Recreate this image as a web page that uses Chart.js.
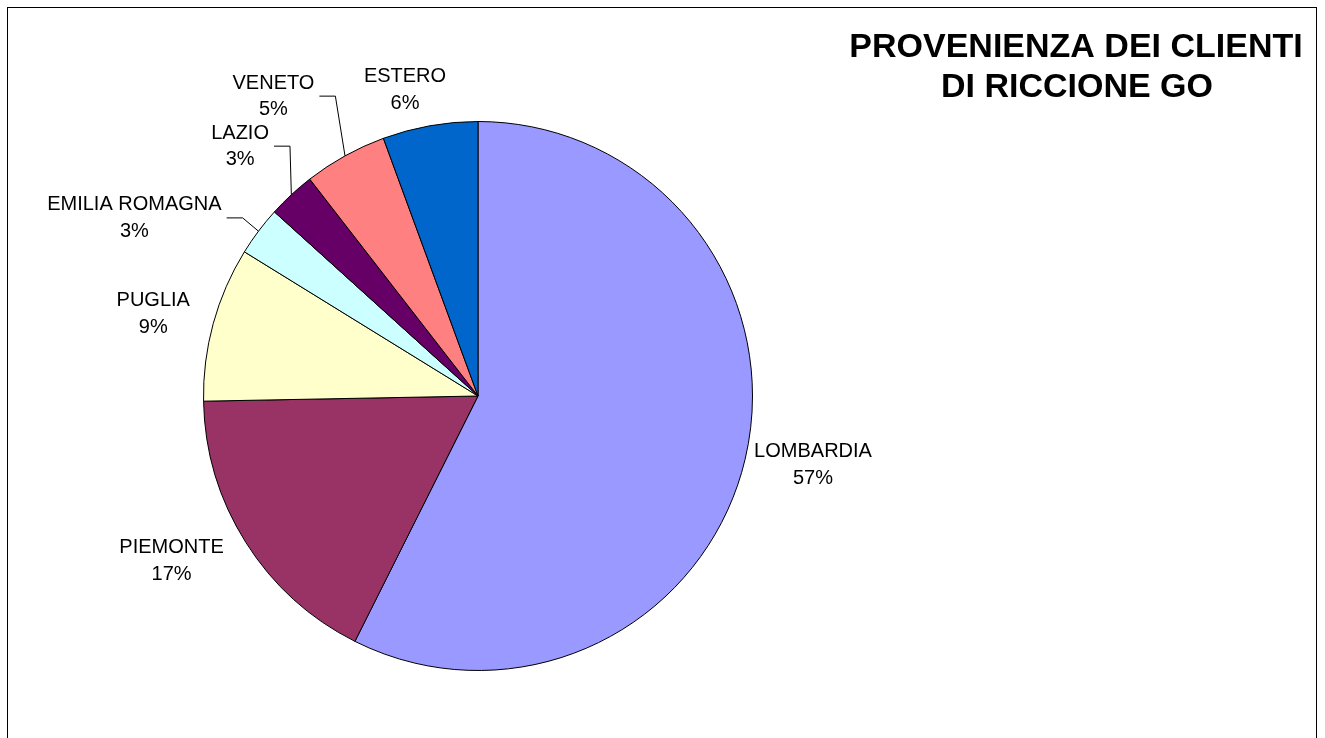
<!DOCTYPE html>
<html>
<head>
<meta charset="utf-8">
<script src="https://cdn.jsdelivr.net/npm/chart.js@4.4.1/dist/chart.umd.min.js"></script>
<style>
  html, body { margin: 0; padding: 0; background: #fff; }
  #wrap { position: relative; width: 1325px; height: 738px; overflow: hidden; }
  #frame { position: absolute; left: 7px; top: 7px; width: 1310px; height: 800px; border: 1px solid #000; box-sizing: border-box; }
  #chart { position: absolute; left: 0; top: 0; }
</style>
</head>
<body>
<div id="wrap">
  <div id="frame"></div>
  <canvas id="chart" width="1325" height="738"></canvas>
</div>
<script>
// data
const regioni = ['LOMBARDIA', 'PIEMONTE', 'PUGLIA', 'EMILIA ROMAGNA', 'LAZIO', 'VENETO', 'ESTERO'];
const quote = [57.4, 17.3, 9.1, 2.9, 2.8, 4.9, 5.6];
const colori = ['#9999FF', '#993366', '#FFFFCC', '#CCFFFF', '#660066', '#FF8080', '#0066CC'];
const titolo = ['PROVENIENZA DEI CLIENTI', 'DI RICCIONE GO'];

// where the labels were dragged to (angle from 12 o'clock, distance from centre)
const labelDeg = [101.6, 241.7, 284.2, 297.4, 316.4, 325.7, 346.6];
const labelDist = [342, 348, 335, 387, 345, 363, 315];
const withLeader = [false, false, false, true, true, true, false];

const FONT = "'Liberation Sans', Arial, sans-serif";

const labelsPlugin = {
    id: 'pieLabels',
    afterDraw(chart) {
        const ctx = chart.ctx;
        const meta = chart.getDatasetMeta(0);
        const total = quote.reduce((a, b) => a + b, 0);
        ctx.save();
        ctx.fillStyle = '#000';
        ctx.strokeStyle = '#000';
        ctx.lineWidth = 1;
        ctx.font = '20px ' + FONT;
        ctx.textAlign = 'center';
        ctx.textBaseline = 'middle';
        meta.data.forEach((arc, i) => {
            const cx = arc.x, cy = arc.y;
            const a = labelDeg[i] * Math.PI / 180;
            const lx = cx + labelDist[i] * Math.sin(a);
            const ly = cy - labelDist[i] * Math.cos(a);
            const pct = Math.round(quote[i] / total * 100) + '%';
            ctx.fillText(regioni[i], lx, ly - 13);
            ctx.fillText(pct, lx, ly + 13.5);
            if (withLeader[i]) {
                const w = ctx.measureText(regioni[i]).width;
                const mid = (arc.startAngle + arc.endAngle) / 2;
                const ex = cx + arc.outerRadius * Math.cos(mid);
                const ey = cy + arc.outerRadius * Math.sin(mid);
                const sx = lx + w / 2 + 5;
                ctx.beginPath();
                ctx.moveTo(sx, ly);
                ctx.lineTo(sx + 16, ly);
                ctx.lineTo(ex, ey);
                ctx.stroke();
            }
        });
        // title
        ctx.font = 'bold 34px ' + FONT;
        ctx.fillText(titolo[0], 1076, 48);
        ctx.fillText(titolo[1], 1077, 88);
        ctx.restore();
    }
};

new Chart(document.getElementById('chart'), {
    type: 'pie',
    data: {
        labels: regioni,
        datasets: [{
            data: quote,
            backgroundColor: colori,
            borderColor: '#000',
            borderWidth: 1
        }]
    },
    options: {
        responsive: false,
        animation: false,
        layout: { padding: { left: 203, right: 572, top: 121, bottom: 67 } },
        plugins: {
            legend: { display: false },
            tooltip: { enabled: false }
        }
    },
    plugins: [labelsPlugin]
});
</script>
</body>
</html>
